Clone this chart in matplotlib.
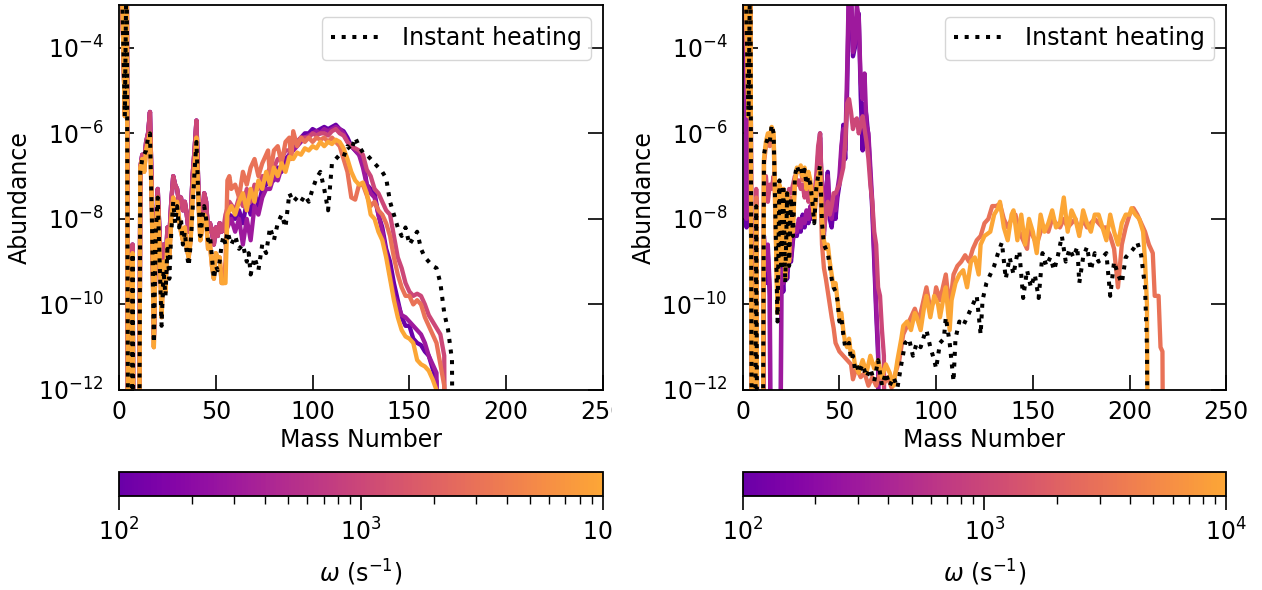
import numpy as np
import matplotlib.pyplot as plt
from matplotlib.colors import LogNorm, ListedColormap
from matplotlib.cm import ScalarMappable
from matplotlib.ticker import NullLocator
from matplotlib.transforms import Bbox, TransformedBbox

# omega values of the five coloured curves (s^-1)
omega = [1e2, 3e2, 1e3, 3e3, 1e4]

# ---------------- left panel, log10(abundance) ----------------
# A = 1..54, shared by the curves (upper / lower envelope)
left_low_hi = [-1, -3.5, -5.5, -1.5, -20, -20, -8.6, -20, -20, -20,
               -6.8, -6.5, -6.7, -6.2, -6.0, -5.5, -7.5, -10.8, -8.5, -7.3,
               -8.4, -9.6, -8.6, -9.3, -8.2, -8.4, -7.6, -7.0, -7.2, -7.3,
               -7.6, -7.5, -7.8, -7.6, -7.9, -8.3, -8.0, -7.0, -6.4, -5.7,
               -7.3, -8.2, -8.0, -7.4, -7.6, -8.3, -8.1, -8.3, -8.6, -8.2,
               -8.4, -8.1, -8.3, -8.2]
left_low_lo = [-1, -3.5, -5.6, -1.5, -20, -20, -8.8, -20, -20, -20,
               -6.8, -6.6, -6.9, -6.4, -6.2, -6.0, -7.8, -11.0, -8.5, -7.5,
               -8.8, -10.3, -9.0, -9.7, -8.5, -8.9, -8.0, -7.5, -7.7, -7.6,
               -8.0, -8.3, -8.5, -8.2, -8.7, -8.9, -8.5, -7.5, -6.8, -6.1,
               -7.6, -8.5, -8.2, -7.9, -8.0, -8.7, -8.6, -9.1, -9.4, -8.8,
               -8.9, -8.9, -9.5, -9.5]
left_low_dot = [-1, -3.5, -5.6, -1.5, -20, -20, -8.8, -20, -20, -20,
                -6.9, -6.6, -6.5, -6.4, -6.1, -6.0, -8.0, -10.9, -8.3, -7.5,
                -9.0, -10.5, -9.2, -9.8, -8.7, -9.4, -8.3, -7.6, -8.1, -7.7,
                -8.2, -8.0, -8.6, -8.3, -8.8, -9.1, -8.6, -7.8, -6.9, -6.2,
                -7.5, -8.4, -8.0, -7.7, -8.0, -8.5, -8.4, -8.9, -9.4, -9.1,
                -9.2, -9.0, -8.6, -8.4]

left_purple = [(55, -8.2), (57, -7.9), (60, -8.0), (62, -7.8), (64, -8.1), (66, -7.6),
               (68, -7.9), (70, -7.4), (72, -7.7), (74, -7.3), (76, -7.2), (78, -7.0),
               (80, -7.1), (82, -6.8), (84, -6.9), (86, -6.6), (88, -6.5), (90, -6.3),
               (92, -6.2), (94, -6.1), (96, -6.0), (98, -6.0), (100, -5.9), (102, -5.95),
               (104, -5.9), (106, -5.85), (108, -5.9), (110, -5.85), (112, -5.8), (114, -5.9),
               (116, -5.95), (118, -6.1), (120, -6.3), (122, -6.4), (124, -6.5), (126, -6.6),
               (128, -7.2), (130, -7.3), (132, -7.4), (134, -7.9), (136, -8.2), (138, -8.7),
               (140, -9.0), (142, -9.5), (144, -9.9), (146, -10.3), (148, -10.5), (150, -10.5),
               (152, -10.8), (154, -10.9), (156, -10.95), (158, -11.1), (160, -11.2),
               (162, -11.5), (164, -11.8), (165, -20)]
left_magenta = [(55, -8.3), (58, -8.0), (60, -8.3), (62, -8.0), (64, -8.6), (66, -8.0),
                (68, -8.5), (70, -7.7), (72, -7.9), (74, -7.5), (76, -7.3), (78, -7.3),
                (80, -7.0), (82, -7.1), (84, -6.8), (86, -6.8), (88, -6.5), (90, -6.4),
                (92, -6.3), (94, -6.2), (96, -6.1), (98, -6.05), (100, -6.0), (102, -5.95),
                (104, -6.0), (106, -5.9), (108, -5.95), (110, -5.9), (112, -5.85), (114, -5.9),
                (116, -6.0), (118, -6.2), (120, -6.3), (122, -6.4), (124, -6.5), (126, -6.8),
                (128, -7.2), (130, -7.4), (132, -7.5), (134, -7.9), (136, -8.3), (138, -8.8),
                (140, -9.3), (142, -9.8), (144, -10.0), (146, -10.25), (148, -10.3),
                (150, -10.4), (152, -10.5), (154, -10.6), (156, -10.7), (158, -10.9),
                (160, -11.2), (162, -11.4), (164, -11.6), (166, -20)]
left_pink = [(55, -7.9), (57, -7.6), (60, -7.8), (62, -7.5), (64, -7.7), (66, -7.3),
             (68, -7.6), (70, -7.2), (72, -7.3), (74, -7.0), (76, -7.0), (78, -6.8),
             (80, -6.8), (82, -6.6), (84, -6.6), (86, -6.4), (88, -6.4), (90, -6.2),
             (92, -6.2), (94, -6.1), (96, -6.1), (98, -6.1), (100, -6.0), (102, -6.05),
             (104, -6.0), (106, -6.0), (108, -6.05), (110, -5.95), (112, -5.9), (114, -6.0),
             (116, -6.05), (118, -6.2), (120, -6.3), (122, -6.35), (124, -6.4), (126, -6.5),
             (128, -6.85), (130, -7.0), (132, -7.3), (134, -7.4), (136, -7.6), (138, -7.8),
             (140, -7.9), (142, -8.4), (144, -8.9), (146, -9.15), (148, -9.5), (150, -9.7),
             (152, -9.8), (154, -9.75), (156, -9.8), (158, -10.0), (160, -10.25),
             (162, -10.4), (164, -10.55), (166, -10.7), (168, -11.2), (169, -20)]
left_coral = [(55, -9.0), (56, -7.1), (57, -7.0), (58, -7.3), (60, -7.2), (62, -7.5),
              (64, -6.9), (66, -7.2), (68, -6.8), (70, -6.6), (72, -7.0), (74, -6.7),
              (76, -6.5), (77, -6.4), (78, -7.0), (80, -6.4), (82, -6.3), (84, -6.7),
              (86, -6.2), (88, -6.1), (89, -6.6), (90, -5.95), (92, -6.3), (94, -6.1),
              (96, -6.2), (98, -6.1), (100, -6.2), (102, -6.1), (104, -6.15), (106, -6.1),
              (108, -6.2), (110, -6.1), (112, -6.2), (114, -6.3), (116, -6.6), (118, -6.9),
              (120, -7.5), (122, -7.55), (124, -7.2), (126, -7.2), (128, -7.45), (130, -7.7),
              (132, -7.6), (134, -7.8), (136, -7.9), (138, -8.1), (140, -8.4), (142, -8.9),
              (144, -9.3), (146, -9.6), (148, -9.8), (150, -9.8), (152, -10.0), (154, -9.9),
              (156, -10.0), (158, -10.3), (160, -10.5), (162, -10.7), (164, -10.9),
              (166, -11.4), (168, -11.9), (169, -20)]
left_orange = [(55, -9.5), (56, -7.9), (58, -7.7), (60, -7.9), (62, -7.6), (64, -7.4),
               (66, -7.8), (68, -7.3), (70, -7.6), (72, -7.1), (74, -7.3), (76, -6.9),
               (78, -7.2), (80, -6.8), (82, -7.0), (84, -6.7), (86, -6.9), (88, -6.55),
               (90, -6.6), (92, -6.45), (94, -6.5), (96, -6.35), (98, -6.4), (100, -6.3),
               (102, -6.35), (104, -6.2), (106, -6.3), (108, -6.2), (110, -6.25), (112, -6.15),
               (114, -6.2), (116, -6.35), (118, -6.6), (120, -6.9), (122, -7.1), (124, -7.2),
               (126, -7.15), (128, -7.4), (130, -7.9), (132, -8.0), (134, -8.3), (136, -8.5),
               (138, -8.9), (140, -9.4), (142, -9.9), (144, -10.3), (146, -10.6),
               (148, -10.75), (150, -10.8), (152, -10.9), (154, -11.3), (156, -11.4),
               (158, -11.45), (160, -11.55), (162, -11.75), (164, -12.0), (165, -20)]
left_dotted = [(55, -8.6), (56, -8.3), (58, -8.6), (60, -8.4), (62, -8.7), (64, -8.6),
               (66, -9.0), (67, -8.8), (68, -9.3), (70, -8.9), (72, -9.2), (74, -8.6),
               (76, -8.8), (78, -8.2), (80, -8.5), (82, -8.1), (84, -7.9), (86, -8.2),
               (88, -7.4), (90, -7.6), (92, -7.5), (94, -7.6), (96, -7.45), (98, -7.6),
               (100, -7.3), (102, -7.05), (104, -6.9), (106, -7.3), (108, -7.8), (110, -6.7),
               (112, -6.6), (114, -6.5), (116, -6.55), (118, -6.3), (120, -6.4), (122, -6.1),
               (124, -6.3), (126, -6.45), (128, -6.5), (130, -6.6), (132, -6.7), (134, -6.8),
               (136, -6.9), (138, -7.05), (140, -7.6), (142, -7.9), (144, -8.2), (146, -8.4),
               (148, -8.2), (150, -8.6), (152, -8.45), (154, -8.3), (156, -8.7), (158, -8.9),
               (160, -9.0), (162, -9.1), (164, -9.15), (166, -9.5), (168, -10.2),
               (170, -10.6), (172, -11.3), (173, -20)]

# ---------------- right panel, log10(abundance) ----------------
# A = 1..60
right_purple_low = [-1, -8.2, -6.0, -1.5, -20, -20, -7.6, -20, -20, -20,
                    -8.6, -9.5, -8.8, -9.8, -20, -20, -20, -20, -20, -9.1,
                    -9.7, -8.7, -9.4, -8.8, -9.0, -8.5, -8.2, -8.4, -8.1, -8.3,
                    -7.9, -8.2, -7.9, -8.1, -7.8, -8.0, -7.8, -7.4, -6.5, -6.0,
                    -7.7, -8.4, -7.4, -6.9, -8.0, -8.2, -7.75, -8.0, -7.5, -7.2,
                    -6.5, -5.8, -6.6, -5.0, -2.5, -2.8, -4.2, -4.0, -3.4, -3.2]
right_magenta_low = [-1, -8.0, -6.1, -1.5, -20, -20, -7.7, -20, -20, -20,
                     -8.4, -9.2, -8.6, -9.6, -20, -20, -20, -20, -20, -9.2,
                     -9.5, -8.9, -9.2, -8.7, -8.9, -8.4, -8.3, -8.3, -8.0, -8.2,
                     -8.0, -8.1, -7.8, -8.0, -7.7, -7.9, -7.6, -7.2, -6.6, -6.1,
                     -7.5, -8.2, -7.3, -7.0, -7.8, -8.0, -7.6, -7.8, -7.3, -7.0,
                     -6.3, -5.9, -6.4, -4.5, -2.3, -2.6, -4.1, -3.9, -3.0, -3.3]
right_pink_low = [-1, -3.5, -5.6, -1.5, -20, -20, -7.3, -20, -20, -20,
                  -7.2, -7.0, -7.6, -7.2, -7.3, -7.0, -7.4, -8.0, -7.6, -8.6,
                  -7.8, -7.4, -7.6, -7.3, -7.4, -7.2, -7.0, -7.2, -7.1, -7.3,
                  -7.2, -7.5, -7.3, -7.6, -7.4, -7.7, -7.5, -7.0, -6.3, -6.0,
                  -7.4, -8.3, -7.9, -7.6, -7.9, -7.7, -7.4, -7.4, -7.3, -7.2,
                  -7.0, -6.8, -6.2, -5.3, -5.2, -5.5, -5.9, -5.7, -5.65, -6.0]
right_coral_low = [-1, -3.5, -5.6, -1.5, -20, -20, -7.5, -20, -20, -20,
                   -6.7, -6.3, -6.2, -6.3, -6.0, -6.1, -8.2, -10.0, -7.3, -8.8,
                   -7.3, -9.0, -7.4, -8.6, -7.5, -8.0, -7.1, -6.9, -6.9, -6.85,
                   -7.1, -6.9, -7.3, -7.0, -7.2, -7.6, -8.0, -7.4, -7.1, -7.0,
                   -8.6, -9.15, -9.4, -9.7, -10.0, -10.3, -10.55, -10.9, -11.0, -11.1,
                   -11.15, -11.2, -11.25, -11.3, -11.35, -11.4, -11.75, -11.6, -11.5, -11.6]
right_orange_low = [-1, -3.5, -5.6, -1.5, -20, -20, -7.7, -20, -20, -20,
                    -6.6, -6.2, -6.0, -6.1, -5.85, -6.0, -8.0, -10.2, -7.2, -9.0,
                    -7.3, -9.4, -7.4, -9.0, -7.6, -8.3, -7.1, -6.8, -6.9, -6.75,
                    -7.0, -6.8, -7.3, -6.9, -7.1, -7.6, -8.0, -7.3, -7.0, -6.8,
                    -8.0, -8.5, -8.7, -8.6, -9.0, -9.3, -9.6, -9.5, -9.9, -10.3,
                    -10.2, -10.6, -10.9, -11.0, -10.8, -11.2, -11.1, -11.4, -11.5, -11.6]
right_dot_low = [-1, -3.5, -5.6, -1.5, -20, -20, -7.7, -20, -20, -20,
                 -6.5, -6.25, -6.1, -6.2, -5.8, -6.0, -8.1, -10.4, -7.1, -9.2,
                 -7.2, -9.5, -7.4, -9.1, -7.5, -8.4, -7.0, -6.75, -6.9, -6.8,
                 -7.0, -6.85, -7.2, -7.0, -7.2, -7.6, -8.1, -7.3, -7.0, -6.75,
                 -8.1, -8.6, -8.7, -8.8, -9.1, -9.4, -9.6, -9.7, -9.9, -10.4,
                 -10.3, -10.7, -11.0, -11.0, -10.9, -11.3, -11.2, -11.5, -11.4, -11.6]

right_purple = [(61, -5.1), (62, -6.4), (63, -5.3), (64, -5.6), (65, -6.1), (66, -7.0),
                (67, -7.8), (68, -9.0), (69, -10.2), (70, -11.2), (71, -20)]
right_magenta = [(61, -4.8), (62, -5.2), (63, -4.6), (64, -5.8), (65, -6.0), (66, -6.8),
                 (67, -7.6), (68, -8.8), (69, -10.0), (70, -11.0), (71, -20)]
right_pink = [(61, -5.8), (62, -5.6), (63, -5.9), (64, -6.2), (65, -6.6), (66, -7.2),
              (67, -7.6), (68, -8.3), (69, -8.6), (70, -9.6), (71, -9.8), (72, -10.6),
              (73, -11.2), (74, -20)]
right_coral = [(61, -11.7), (63, -11.6), (65, -11.9), (67, -11.7), (69, -11.9), (71, -11.6),
               (73, -11.85), (75, -11.7), (77, -11.95), (79, -11.6), (81, -11.3), (83, -10.7),
               (85, -10.5), (87, -10.3), (89, -10.1), (91, -10.4), (93, -10.0), (95, -9.6),
               (97, -10.1), (99, -9.9), (100, -9.6), (102, -9.9), (104, -9.5), (105, -9.3),
               (107, -10.1), (109, -9.3), (111, -9.1), (113, -9.0), (115, -8.85), (117, -9.0),
               (119, -8.7), (121, -8.5), (123, -8.4), (125, -8.1), (127, -8.0), (129, -7.7),
               (131, -7.7), (133, -7.65), (135, -8.0), (137, -8.2), (139, -8.0), (141, -7.9),
               (143, -8.3), (145, -8.5), (147, -8.7), (148, -8.2), (150, -8.4), (152, -8.6),
               (154, -8.3), (156, -8.2), (158, -8.3), (160, -8.0), (162, -8.1), (164, -8.2),
               (166, -8.0), (168, -8.2), (170, -8.1), (172, -8.0), (174, -8.3), (176, -8.0),
               (178, -8.2), (180, -8.1), (182, -8.0), (184, -8.1), (186, -8.2), (188, -8.2),
               (190, -8.4), (192, -8.7), (194, -9.6), (196, -8.6), (198, -8.2), (200, -7.9),
               (202, -7.75), (204, -7.9), (206, -8.1), (208, -8.3), (210, -8.6), (212, -8.8),
               (213, -9.8), (215, -9.8), (216, -11.0), (217, -11.1), (218, -20)]
right_orange = [(62, -11.3), (64, -11.6), (66, -11.2), (68, -11.5), (70, -11.3), (72, -11.7),
                (74, -11.4), (76, -11.6), (78, -11.9), (80, -11.3), (82, -10.8), (83, -10.5),
                (85, -10.4), (87, -10.6), (89, -10.2), (90, -10.3), (92, -10.6), (94, -10.0),
                (95, -9.8), (97, -10.3), (99, -9.8), (101, -10.0), (102, -10.3), (104, -9.8),
                (105, -9.6), (107, -10.6), (108, -9.9), (110, -9.5), (112, -9.3), (114, -9.2),
                (116, -9.6), (118, -9.0), (120, -8.9), (122, -9.3), (123, -8.6), (125, -8.4),
                (128, -8.3), (130, -7.9), (132, -7.75), (133, -7.6), (135, -8.2), (137, -8.5),
                (139, -7.9), (140, -7.8), (142, -8.5), (144, -7.9), (146, -8.6), (148, -8.0),
                (150, -8.3), (152, -8.8), (154, -7.9), (156, -8.3), (158, -8.1), (160, -7.8),
                (162, -8.2), (164, -8.1), (166, -7.5), (168, -8.3), (170, -7.8), (172, -8.0),
                (174, -8.4), (176, -7.8), (178, -8.1), (180, -8.3), (182, -7.9), (184, -7.9),
                (186, -8.2), (188, -8.5), (190, -7.9), (192, -8.3), (194, -8.6), (196, -8.1),
                (198, -7.9), (200, -7.9), (201, -7.75), (203, -7.9), (205, -8.0), (207, -8.3),
                (208, -9.0), (209, -10.0), (210, -20)]
right_dotted = [(62, -11.4), (64, -11.7), (66, -11.5), (68, -11.8), (70, -11.3), (72, -11.9),
                (74, -11.6), (76, -11.9), (78, -11.7), (80, -11.95), (82, -11.4), (84, -10.9),
                (86, -10.8), (88, -11.2), (90, -10.9), (92, -11.0), (94, -10.7), (95, -10.6),
                (97, -11.0), (99, -11.3), (100, -11.5), (102, -10.9), (104, -10.8), (105, -10.3),
                (107, -10.9), (109, -11.8), (110, -10.8), (112, -10.4), (114, -10.5),
                (116, -10.3), (118, -10.1), (120, -9.9), (121, -9.8), (123, -10.7), (124, -9.9),
                (126, -9.5), (128, -9.3), (130, -9.1), (132, -8.8), (134, -8.55), (136, -9.4),
                (138, -8.9), (140, -9.3), (142, -8.8), (143, -8.75), (145, -9.85), (147, -9.2),
                (149, -9.6), (151, -9.3), (153, -9.85), (155, -8.8), (157, -9.1), (159, -8.9),
                (161, -9.2), (163, -8.85), (165, -8.4), (167, -9.0), (169, -8.7), (171, -8.9),
                (173, -8.65), (174, -9.5), (176, -8.9), (178, -8.65), (180, -9.2), (182, -8.8),
                (184, -9.0), (186, -8.9), (188, -8.8), (190, -9.8), (192, -9.0), (194, -9.3),
                (196, -9.5), (198, -8.9), (200, -8.8), (202, -8.7), (204, -8.55), (206, -8.85),
                (208, -9.6), (209, -11.0), (210, -20)]


def series(low, tail):
    # low part is given for A = 1, 2, 3, ...; tail as (A, log10 Y) pairs
    A = list(range(1, len(low) + 1)) + [p[0] for p in tail]
    y = list(low) + [p[1] for p in tail]
    return np.array(A), 10.0 ** np.array(y)


left_curves = [(left_low_hi, left_purple), (left_low_hi, left_magenta), (left_low_hi, left_pink),
               (left_low_lo, left_coral), (left_low_lo, left_orange)]
right_curves = [(right_purple_low, right_purple), (right_magenta_low, right_magenta),
                (right_pink_low, right_pink), (right_coral_low, right_coral),
                (right_orange_low, right_orange)]
left_instant = (left_low_dot, left_dotted)
right_instant = (right_dot_low, right_dotted)

cmap = ListedColormap(plt.get_cmap('plasma')(np.linspace(0.2, 0.8, 256)))
norm = LogNorm(vmin=1e2, vmax=1e4)

fs = 17
plt.rcParams['font.size'] = fs

fig = plt.figure(figsize=(12.62, 5.90), dpi=100)
ax1 = fig.add_axes([0.0943, 0.339, 0.3835, 0.6525])
ax2 = fig.add_axes([0.5885, 0.339, 0.3832, 0.6525])
cax1 = fig.add_axes([0.0943, 0.159, 0.3835, 0.0407])
cax2 = fig.add_axes([0.5885, 0.159, 0.3832, 0.0407])

for ax, curves, inst in [(ax1, left_curves, left_instant), (ax2, right_curves, right_instant)]:
    for w, (low, tail) in zip(omega, curves):
        A, Y = series(low, tail)
        ax.plot(A, Y, color=cmap(norm(w)), lw=3.1)
    A, Y = series(*inst)
    ax.plot(A, Y, ':', color='black', lw=2.9, label='Instant heating')
    ax.set_yscale('log')
    ax.set_xlim(0, 250)
    ax.set_ylim(1e-12, 1e-3)
    ax.set_xticks([0, 50, 100, 150, 200, 250])
    ax.set_yticks([1e-12, 1e-10, 1e-8, 1e-6, 1e-4])
    ax.yaxis.set_minor_locator(NullLocator())
    ax.tick_params(direction='in', length=11, width=1.2, right=True, top=False, labelsize=fs)
    ax.tick_params(axis='x', pad=7)
    ax.tick_params(axis='y', pad=11)
    for s in ax.spines.values():
        s.set_linewidth(1.3)
    ax.set_xlabel('Mass Number', fontsize=fs, labelpad=3)
    ax.set_ylabel('Abundance', fontsize=fs, labelpad=4)
    ax.legend(loc='upper right', fontsize=fs, handlelength=2.2)

cbs = []
for cax in [cax1, cax2]:
    cb = fig.colorbar(ScalarMappable(norm=norm, cmap=cmap), cax=cax, orientation='horizontal')
    cb.set_label(r'$\omega$ (s$^{-1}$)', fontsize=fs, labelpad=9)
    cb.ax.tick_params(which='major', length=10, width=1.2, labelsize=fs, pad=6)
    cb.ax.tick_params(which='minor', length=5.5, width=1.0)
    cb.outline.set_linewidth(1.3)
    cbs.append(cb)

# the left panel image is cut at its right edge in the original
fig.canvas.draw()
clip = TransformedBbox(Bbox.from_extents(0, 0, 0.4847, 1), fig.transFigure)
for t in ax1.get_xticklabels() + cbs[0].ax.get_xticklabels():
    t.set_clip_box(clip)
    t.set_clip_on(True)

fig.savefig('out.png', dpi=100)
